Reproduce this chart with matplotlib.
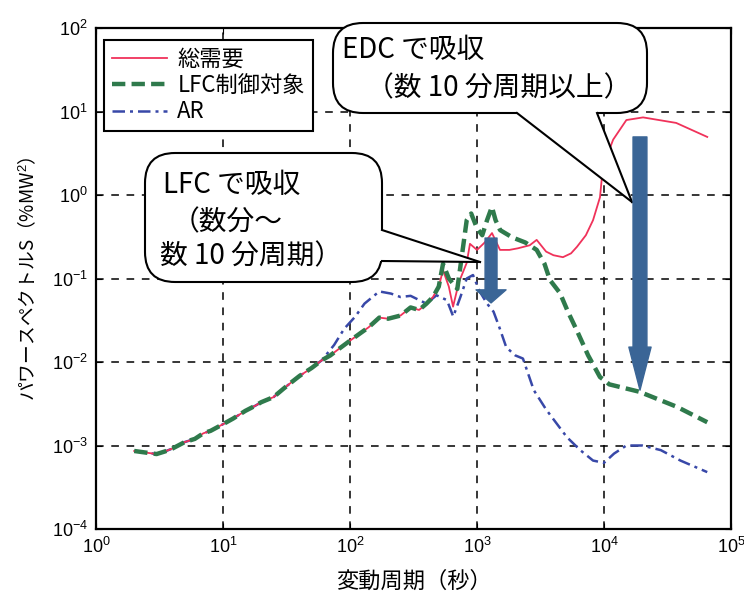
import matplotlib
matplotlib.use('Agg')
import matplotlib.pyplot as plt
from matplotlib.patches import FancyBboxPatch, FancyArrowPatch, Polygon
from matplotlib.lines import Line2D
from matplotlib.transforms import Affine2D
from matplotlib.ticker import LogLocator, NullLocator


FONTES = ['Liberation Sans', 'Noto Sans CJK JP', 'DejaVu Sans']
FONTES_CJK = ['Noto Sans CJK JP', 'DejaVu Sans']

# trecho comum das três curvas (períodos curtos)
PERIODO_COMUM = [2, 2.5, 3, 3.5, 4, 5, 6, 7, 8, 10, 12, 15, 18, 20, 25, 30, 35, 40, 50, 60]
ESPECTRO_COMUM = [0.00086, 0.00082, 0.00079, 0.00085, 0.00092, 0.0011, 0.0012, 0.0014, 0.0015,
                  0.0018, 0.0021, 0.0026, 0.003, 0.0033, 0.0038, 0.0048, 0.0058, 0.0068,
                  0.0085, 0.0105]

PERIODO_LFC = [70, 80, 100, 120, 140, 170, 200, 250, 300, 350, 400, 450, 500, 540, 600, 700,
               780, 830, 900, 1000, 1100, 1200, 1310, 1400, 1520, 1900, 2400, 2950, 3400,
               3750, 4500, 5200, 6100, 7500, 9300, 10000, 11000, 19000, 37600, 65000]
ESPECTRO_LFC = [0.012, 0.014, 0.018, 0.022, 0.026, 0.034, 0.033, 0.036, 0.045, 0.042, 0.05,
                0.06, 0.08, 0.15, 0.1, 0.075, 0.25, 0.5, 0.6, 0.4, 0.33, 0.5, 0.72, 0.5, 0.38,
                0.31, 0.27, 0.22, 0.15, 0.096, 0.067, 0.04, 0.024, 0.012, 0.0066, 0.0061,
                0.0054, 0.0044, 0.0029, 0.0019]

PERIODO_TOTAL = [70, 80, 100, 120, 140, 170, 200, 250, 300, 350, 400, 450, 500, 540, 600, 648,
                 720, 830, 880, 1000, 1150, 1313, 1517, 1800, 2100, 2600, 2950, 3500, 4000,
                 4750, 5500, 6130, 7200, 8200, 9300, 9800, 11800, 15000, 20300, 37000, 65000]
ESPECTRO_TOTAL = [0.012, 0.014, 0.018, 0.022, 0.026, 0.034, 0.033, 0.036, 0.045, 0.042, 0.05,
                  0.06, 0.08, 0.126, 0.08, 0.046, 0.09, 0.154, 0.26, 0.22, 0.27, 0.35, 0.22,
                  0.22, 0.23, 0.25, 0.29, 0.21, 0.19, 0.18, 0.2, 0.24, 0.33, 0.5, 0.94, 2.16,
                  4.6, 7.9, 8.5, 7.3, 4.96]

PERIODO_AR = [75, 90, 110, 130, 170, 210, 250, 300, 400, 480, 580, 650, 740, 830, 930, 1050,
              1200, 1350, 1500, 1700, 2000, 2300, 2800, 3500, 5100, 6500, 8200, 10000, 12000,
              15000, 20000, 28000, 40000, 65000]
ESPECTRO_AR = [0.016, 0.025, 0.035, 0.05, 0.07, 0.066, 0.06, 0.062, 0.05, 0.063, 0.055, 0.035,
               0.06, 0.1, 0.11, 0.07, 0.05, 0.04, 0.026, 0.015, 0.012, 0.011, 0.0046, 0.0027,
               0.00126, 0.00088, 0.00066, 0.00062, 0.0008, 0.001, 0.001, 0.00088, 0.00066,
               0.00048]

NOMES_SERIES = ['総需要', 'LFC制御対象', 'AR']

# setas azuis: (período, topo, ponta)
SETA_LFC = (1290, 0.305, 0.051)
SETA_EDC = (19200, 4.96, 0.0046)

COR_TOTAL = '#f0325a'
COR_LFC = '#2f7a4c'
COR_AR = '#3848a8'
COR_SETA = '#3a6596'


def transformacao_pixels(fig):
    # coordenadas em pixels da imagem, com y crescendo para baixo
    largura, altura = fig.get_size_inches()
    return Affine2D().scale(1 / 100, -1 / 100).translate(0, altura) + fig.dpi_scale_trans


def desenhar_balao(ax, tr, caixa, cauda, dentro):
    x0, y0, x1, y1 = caixa
    corpo = FancyBboxPatch((x0, y0), x1 - x0, y1 - y0,
                           boxstyle='round,pad=0,rounding_size=30',
                           facecolor='white', edgecolor='black', linewidth=1.5,
                           transform=tr, clip_on=False, zorder=6)
    ax.add_patch(corpo)
    b1, ponta, b2 = cauda
    dx, dy = dentro
    pontos = [(b1[0] + dx, b1[1] + dy), b1, ponta, b2, (b2[0] + dx, b2[1] + dy)]
    ax.add_patch(Polygon(pontos, closed=True, facecolor='white', edgecolor='none',
                         transform=tr, clip_on=False, zorder=6.1))
    for base in (b1, b2):
        ax.add_line(Line2D([base[0], ponta[0]], [base[1], ponta[1]], color='black',
                           linewidth=1.5, transform=tr, clip_on=False, zorder=6.2))


def desenhar_seta(ax, seta, cauda, cabeca_larg, cabeca_comp):
    x, topo, ponta = seta
    estilo = f'simple,head_length={cabeca_comp},head_width={cabeca_larg},tail_width={cauda}'
    ax.add_patch(FancyArrowPatch(posA=(x, topo), posB=(x, ponta), arrowstyle=estilo,
                                 mutation_scale=1, color=COR_SETA, shrinkA=0, shrinkB=0,
                                 transform=ax.transData, zorder=7))


def exibir_grafico():
    plt.rcParams['font.family'] = FONTES
    plt.rcParams['mathtext.fontset'] = 'custom'
    plt.rcParams['mathtext.rm'] = 'Liberation Sans'
    plt.rcParams['mathtext.it'] = 'Liberation Sans'

    fig = plt.figure(figsize=(7.44, 5.96), dpi=100)
    ax = fig.add_axes([96 / 744, 1 - 529 / 596, 635 / 744, 501 / 596])
    tr = transformacao_pixels(fig)

    ax.plot(PERIODO_COMUM + PERIODO_TOTAL, ESPECTRO_COMUM + ESPECTRO_TOTAL,
            color=COR_TOTAL, linewidth=1.3, label=NOMES_SERIES[0], zorder=3)
    ax.plot(PERIODO_COMUM + PERIODO_LFC, ESPECTRO_COMUM + ESPECTRO_LFC,
            color=COR_LFC, linewidth=3.2, dashes=(3, 1.4), label=NOMES_SERIES[1], zorder=3)
    ax.plot(PERIODO_COMUM + PERIODO_AR, ESPECTRO_COMUM + ESPECTRO_AR,
            color=COR_AR, linewidth=1.8, dashes=(5, 2, 1.2, 2), label=NOMES_SERIES[2], zorder=2.9)

    ax.set_xscale('log')
    ax.set_yscale('log')
    ax.set_xlim(1, 1e5)
    ax.set_ylim(1e-4, 1e2)
    ax.xaxis.set_major_locator(LogLocator(base=10, numticks=10))
    ax.yaxis.set_major_locator(LogLocator(base=10, numticks=10))
    ax.xaxis.set_minor_locator(NullLocator())
    ax.yaxis.set_minor_locator(NullLocator())
    ax.tick_params(which='both', direction='in', top=True, right=True, length=4,
                   labelsize=13, pad=6)
    ax.grid(True, color='black', linestyle=(0, (5, 5)), linewidth=1.1)
    for spine in ax.spines.values():
        spine.set_linewidth(1.6)

    ax.set_xlabel('変動周期（秒）', fontsize=16, family=FONTES_CJK, labelpad=9)
    ax.set_ylabel('パワースペクトルS（%MW$^2$）', fontsize=13.5, family=FONTES_CJK, labelpad=9)

    leg = ax.legend(loc='upper left', bbox_to_anchor=(0.0126, 0.976), borderaxespad=0,
                    fancybox=False, framealpha=1, edgecolor='black', handlelength=2.5,
                    handletextpad=0.45, labelspacing=0.15, borderpad=0.35,
                    prop={'family': FONTES_CJK, 'size': 16})
    leg.get_frame().set_linewidth(1.5)
    leg.set_zorder(5)

    desenhar_seta(ax, SETA_LFC, 8.6, 21.6, 9.4)
    desenhar_seta(ax, SETA_EDC, 10, 16, 31)

    desenhar_balao(ax, tr, (333, 23, 647, 113),
                   ((517, 113), (632, 202), (597, 113)), (0, -4))
    desenhar_balao(ax, tr, (145, 153, 382, 282),
                   ((382, 230), (480, 262), (382, 261)), (-4, 0))

    estilo_texto = dict(transform=tr, fontsize=20, family=FONTES_CJK, va='center',
                        ha='left', zorder=8, clip_on=False)
    ax.text(342, 50, 'EDC で吸収', **estilo_texto)
    ax.text(366, 88, '（数 10 分周期以上）', **estilo_texto)
    ax.text(163, 185, 'LFC で吸収', **estilo_texto)
    ax.text(172, 222, '（数分～', **estilo_texto)
    ax.text(160, 256, '数 10 分周期）', **estilo_texto)

    fig.savefig('out.png', dpi=100)


def main():
    exibir_grafico()


if __name__ == '__main__':
    main()
